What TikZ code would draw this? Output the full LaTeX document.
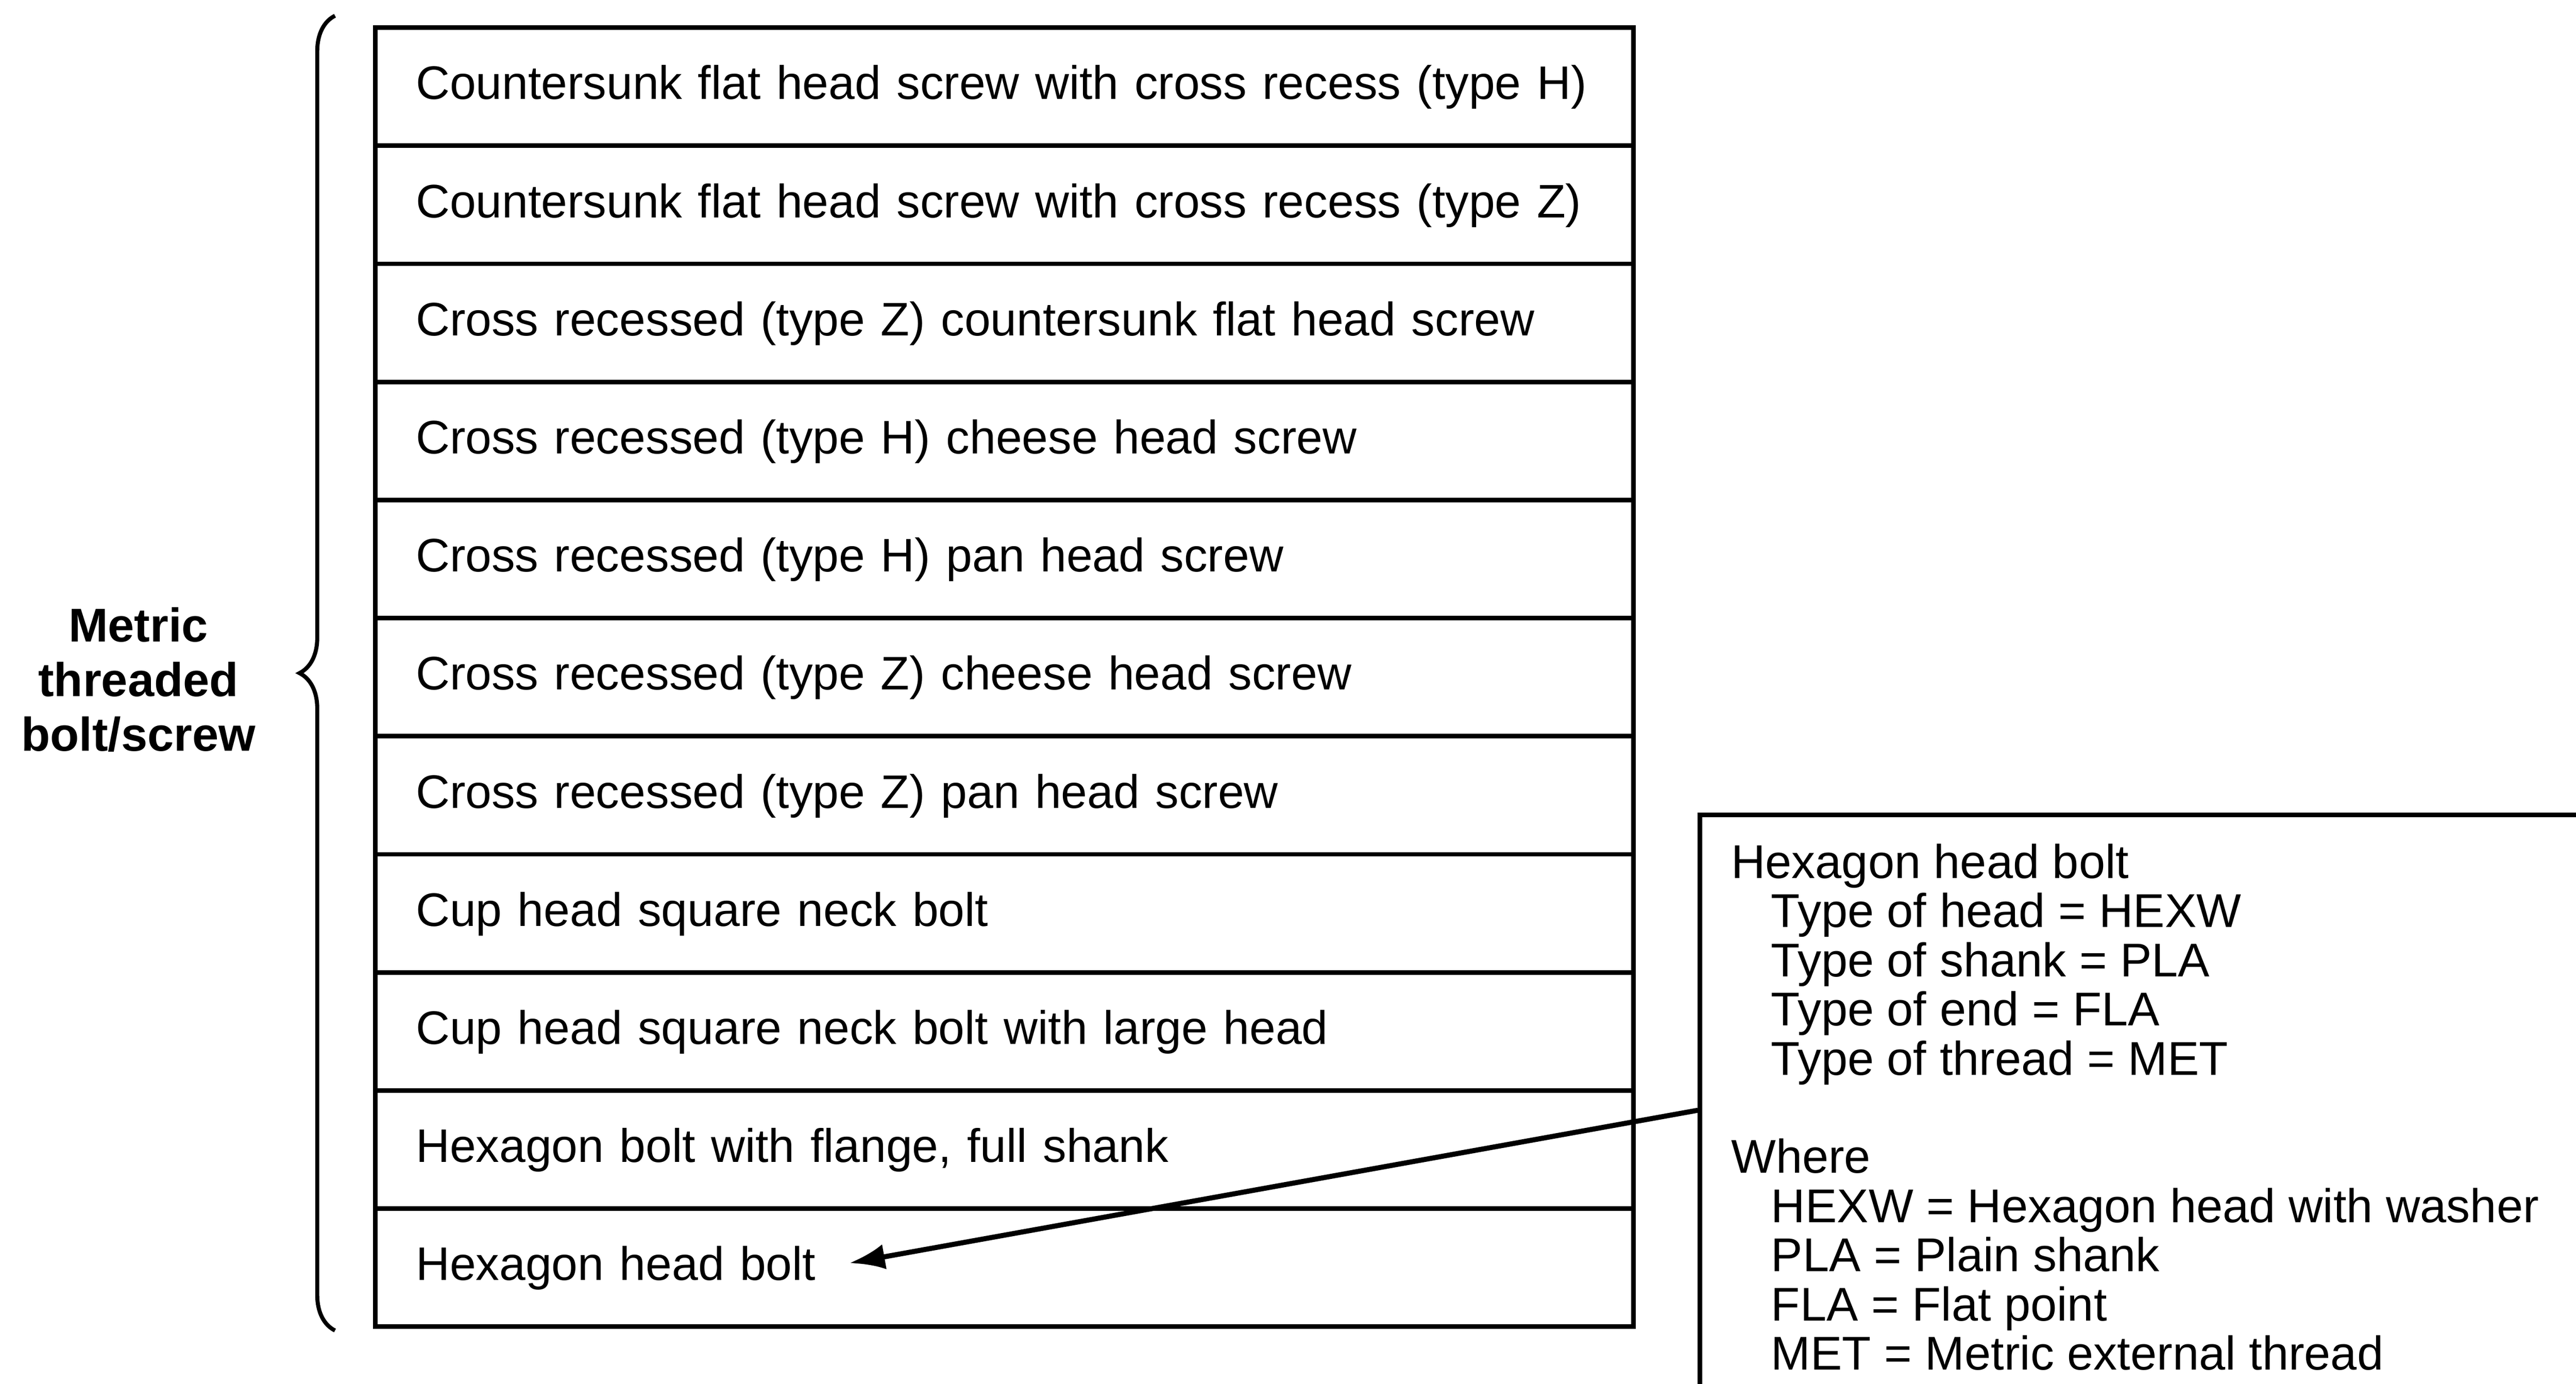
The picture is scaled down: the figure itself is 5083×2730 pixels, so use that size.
\documentclass[tikz,border=0pt]{standalone}
\usepackage{fontspec}
\setmainfont{Liberation Sans}
\usetikzlibrary{arrows.meta,decorations.pathreplacing}
\begin{document}
\begin{tikzpicture}[x=0.1pt,y=-0.1pt,
  txt/.style={font=\fontsize{9.35}{9.7}\selectfont},
  rowbox/.style={font=\fontsize{9.28}{9.7}\selectfont, draw, line width=0.9pt, anchor=north west,
    minimum width=248.3pt, minimum height=23.3pt, text width=232.3pt,
    align=left, inner xsep=8pt, inner ysep=0pt, text height=6.2pt, text depth=1.2pt},
  bracestyle/.style={line width=0.8pt, decorate, decoration={brace, amplitude=7pt}},
  infoframe/.style={draw, line width=0.9pt, anchor=north west, inner sep=0pt,
    minimum width=185pt, minimum height=116.6pt},
  pointer/.style={line width=1pt, -{Latex[length=7pt,width=5pt]}}
]
\useasboundingbox (0,0) rectangle (5083,2730);
\foreach \t [count=\i] in {
  {Countersunk flat head screw with cross recess (type H)},
  {Countersunk flat head screw with cross recess (type Z)},
  {Cross recessed (type Z) countersunk flat head screw},
  {Cross recessed (type H) cheese head screw},
  {Cross recessed (type H) pan head screw},
  {Cross recessed (type Z) cheese head screw},
  {Cross recessed (type Z) pan head screw},
  {Cup head square neck bolt},
  {Cup head square neck bolt with large head},
  {Hexagon bolt with flange, full shank},
  {Hexagon head bolt}}
{
  \node[rowbox] (r\i) at (736,{50+233*(\i-1)}) {\mbox{\t}};
}
\coordinate (bt) at (661,31);
\coordinate (bb) at (661,2625);
\draw[bracestyle] (bb) -- (bt);
\node[font=\fontsize{9.35}{10.8}\selectfont\bfseries, align=center, inner sep=0pt] (lbl) at (273,1341) {Metric\\threaded\\bolt/screw};
\node[infoframe] (infobox) at (3350,1603) {};
\node[txt, anchor=north west, align=left, inner sep=0pt] (info) at (3414,1663) {Hexagon head bolt\\
\hspace*{7.9pt}Type of head = HEXW\\
\hspace*{7.9pt}Type of shank = PLA\\
\hspace*{7.9pt}Type of end = FLA\\
\hspace*{7.9pt}Type of thread = MET\\[9.7pt]
Where\\
\hspace*{7.9pt}HEXW = Hexagon head with washer\\
\hspace*{7.9pt}PLA = Plain shank\\
\hspace*{7.9pt}FLA = Flat point\\
\hspace*{7.9pt}MET = Metric external thread};
\coordinate (tip) at (1676,2492);
\draw[pointer] (infobox.west) -- (tip);
\end{tikzpicture}
\end{document}
